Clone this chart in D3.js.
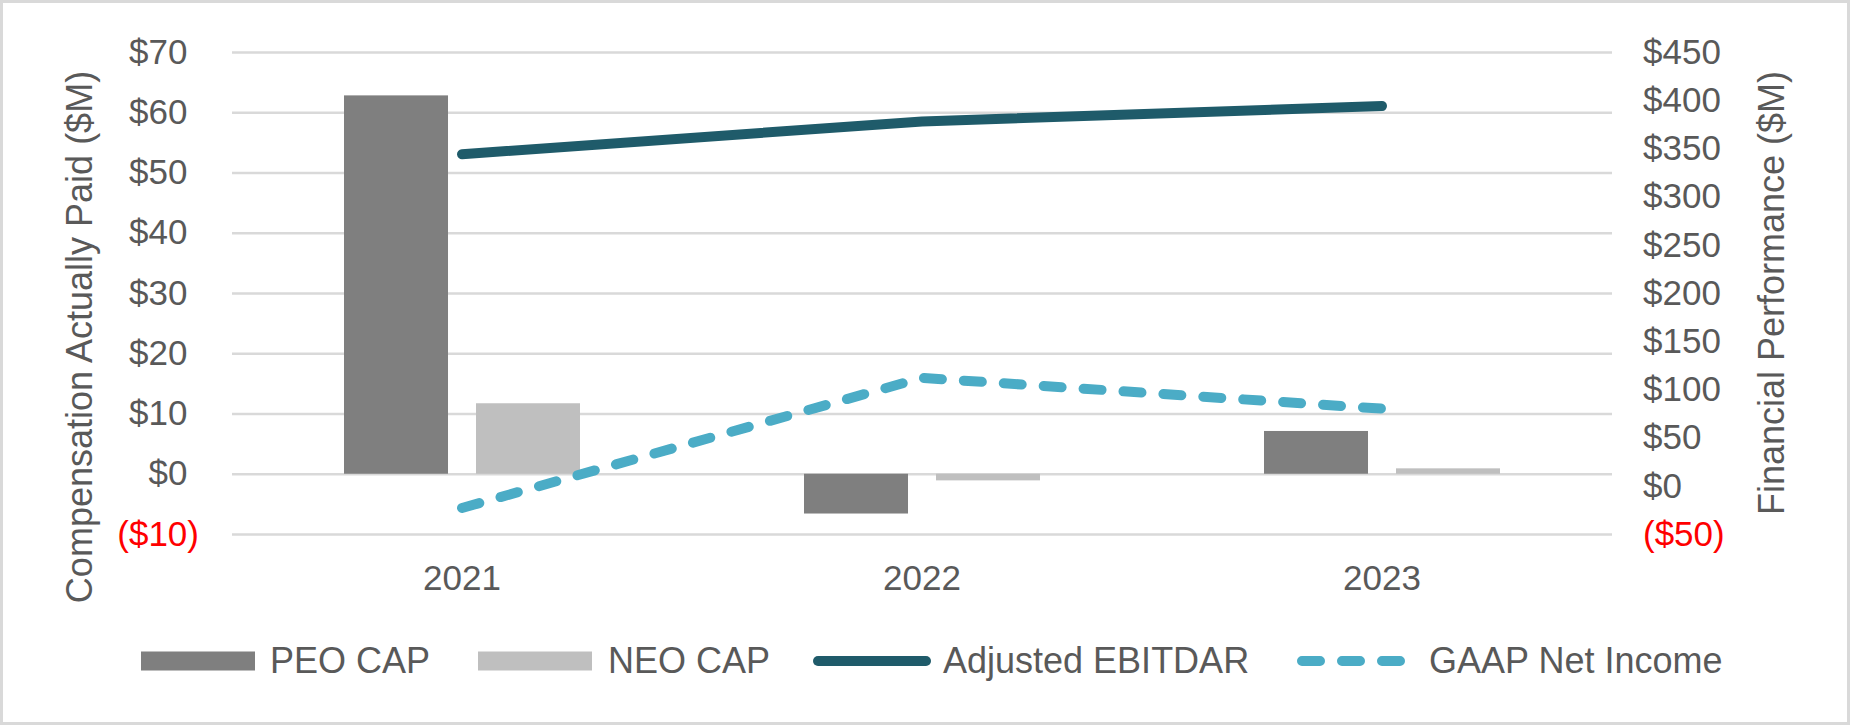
<!DOCTYPE html>
<html>
<head>
<meta charset="utf-8">
<script src="https://cdn.jsdelivr.net/npm/d3@7"></script>
<style>
  body { margin: 0; background: #fff; }
  text { font-family: "Liberation Sans", Arial, sans-serif; fill: #595959; }
</style>
</head>
<body>
<div id="chart"></div>
<script>
// data
const years = ["2021", "2022", "2023"];
const peoCap = [62.8, -6.6, 7.1];
const neoCap = [11.7, -1.1, 0.9];
const adjEbitdar = [344, 378, 394];
const gaapNetIncome = [-23, 112, 80];
const leftTicks = [-10, 0, 10, 20, 30, 40, 50, 60, 70];
const rightTicks = [-50, 0, 50, 100, 150, 200, 250, 300, 350, 400, 450];
const seriesNames = ["PEO CAP", "NEO CAP", "Adjusted EBITDAR", "GAAP Net Income"];

const W = 1850, H = 725;
const plot = { left: 232, right: 1612, top: 52, bottom: 534 };
const colors = { peo: "#7f7f7f", neo: "#bfbfbf", ebitdar: "#1f5b6a", gaap: "#4bacc6", grid: "#d9d9d9", red: "#ff0000" };

const svg = d3.select("#chart").append("svg")
    .attr("width", W).attr("height", H);

svg.append("rect")
    .attr("x", 1.5).attr("y", 1.5)
    .attr("width", W - 3).attr("height", H - 3)
    .attr("fill", "#fff").attr("stroke", "#d9d9d9").attr("stroke-width", 3);

var x0 = d3.scaleBand().domain(years).range([plot.left, plot.right]);
var x1 = d3.scaleBand().domain(["peo", "neo"]).range([112, 348]).paddingInner(0.212);
var yL = d3.scaleLinear().domain([-10, 70]).range([plot.bottom, plot.top]);
var yR = d3.scaleLinear().domain([-50, 450]).range([plot.bottom, plot.top]);

function money(v) { return v < 0 ? "($" + (-v) + ")" : "$" + v; }

// left axis + gridlines
var gL = svg.append("g")
    .attr("transform", "translate(" + plot.left + ",0)")
    .call(d3.axisLeft(yL).tickValues(leftTicks).tickSize(-(plot.right - plot.left)).tickPadding(33).tickFormat(money));
gL.select(".domain").remove();
gL.selectAll(".tick line").attr("stroke", colors.grid).attr("stroke-width", 2.5);
gL.selectAll(".tick text")
    .attr("font-size", 35)
    .attr("dx", (d) => d < 0 ? 0 : "-0.333em")
    .style("fill", (d) => d < 0 ? colors.red : "#595959");

// right axis
var gR = svg.append("g")
    .attr("transform", "translate(" + plot.right + ",0)")
    .call(d3.axisRight(yR).tickValues(rightTicks).tickSize(0).tickPadding(31).tickFormat(money));
gR.select(".domain").remove();
gR.selectAll(".tick text")
    .attr("font-size", 35)
    .style("fill", (d) => d < 0 ? colors.red : "#595959");

// x axis
var gX = svg.append("g")
    .attr("transform", "translate(0," + plot.bottom + ")")
    .call(d3.axisBottom(x0).tickSize(0).tickPadding(31));
gX.select(".domain").remove();
gX.selectAll(".tick text").attr("font-size", 35);

// bars
var groups = svg.append("g").selectAll("g")
    .data(years)
    .enter().append("g")
    .attr("transform", (d) => "translate(" + x0(d) + ",0)");
groups.append("rect")
    .attr("x", x1("peo"))
    .attr("width", x1.bandwidth())
    .attr("y", (d, i) => yL(Math.max(0, peoCap[i])))
    .attr("height", (d, i) => Math.abs(yL(peoCap[i]) - yL(0)))
    .attr("fill", colors.peo);
groups.append("rect")
    .attr("x", x1("neo"))
    .attr("width", x1.bandwidth())
    .attr("y", (d, i) => yL(Math.max(0, neoCap[i])))
    .attr("height", (d, i) => Math.abs(yL(neoCap[i]) - yL(0)))
    .attr("fill", colors.neo);

// lines
var line = d3.line()
    .x((d, i) => x0(years[i]) + x0.bandwidth() / 2)
    .y((d) => yR(d));
svg.append("path")
    .datum(adjEbitdar)
    .attr("d", line)
    .attr("fill", "none")
    .attr("stroke", colors.ebitdar)
    .attr("stroke-width", 10)
    .attr("stroke-linecap", "round")
    .attr("stroke-linejoin", "round");
svg.append("path")
    .datum(gaapNetIncome)
    .attr("d", line)
    .attr("fill", "none")
    .attr("stroke", colors.gaap)
    .attr("stroke-width", 10)
    .attr("stroke-linecap", "round")
    .attr("stroke-dasharray", "18 22");

// axis titles
svg.append("text")
    .attr("transform", "translate(92,337) rotate(-90)")
    .attr("text-anchor", "middle")
    .attr("font-size", 36)
    .text("Compensation Actually Paid ($M)");
svg.append("text")
    .attr("transform", "translate(1784,293) rotate(-90)")
    .attr("text-anchor", "middle")
    .attr("font-size", 36)
    .text("Financial Performance ($M)");

// legend
var legY = 661;
var leg = svg.append("g");
leg.append("rect").attr("x", 141).attr("y", legY - 9.5).attr("width", 114).attr("height", 19).attr("fill", colors.peo);
leg.append("rect").attr("x", 478).attr("y", legY - 9.5).attr("width", 114).attr("height", 19).attr("fill", colors.neo);
leg.append("line").attr("x1", 818).attr("x2", 926).attr("y1", legY).attr("y2", legY)
    .attr("stroke", colors.ebitdar).attr("stroke-width", 10).attr("stroke-linecap", "round");
leg.append("line").attr("x1", 1302).attr("x2", 1400).attr("y1", legY).attr("y2", legY)
    .attr("stroke", colors.gaap).attr("stroke-width", 10).attr("stroke-linecap", "round")
    .attr("stroke-dasharray", "18 22");
var legX = [270, 608, 943, 1429];
leg.selectAll("text.lab")
    .data(seriesNames)
    .enter().append("text")
    .attr("class", "lab")
    .attr("x", (d, i) => legX[i])
    .attr("y", 673)
    .attr("font-size", 36)
    .text((d) => d);
</script>
</body>
</html>
